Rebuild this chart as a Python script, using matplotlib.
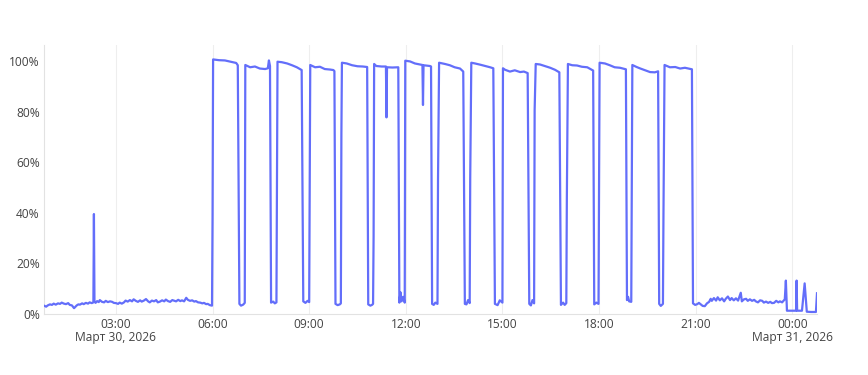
import matplotlib
matplotlib.use("Agg")
import matplotlib.pyplot as plt
import pandas as pd

# CPU usage (%) sampled over 24h, Mar 30 00:46 -> Mar 31 00:46
times = [
    # night low
    "03-30 00:46", "03-30 00:50", "03-30 00:53", "03-30 00:57", "03-30 01:01", "03-30 01:04",
    "03-30 01:08", "03-30 01:12", "03-30 01:16", "03-30 01:19", "03-30 01:23", "03-30 01:27",
    "03-30 01:31", "03-30 01:34", "03-30 01:38", "03-30 01:42", "03-30 01:47", "03-30 01:50",
    "03-30 01:53", "03-30 01:57", "03-30 02:00", "03-30 02:04", "03-30 02:08", "03-30 02:11",
    "03-30 02:15", "03-30 02:18", "03-30 02:19", "03-30 02:20", "03-30 02:22", "03-30 02:25",
    "03-30 02:28", "03-30 02:30", "03-30 02:34", "03-30 02:38", "03-30 02:41", "03-30 02:45",
    "03-30 02:49", "03-30 02:53", "03-30 02:56", "03-30 03:00", "03-30 03:04", "03-30 03:07",
    "03-30 03:11", "03-30 03:15", "03-30 03:18", "03-30 03:22", "03-30 03:26", "03-30 03:30",
    "03-30 03:33", "03-30 03:37", "03-30 03:41", "03-30 03:45", "03-30 03:48", "03-30 03:52",
    "03-30 03:56", "03-30 04:00", "03-30 04:03", "03-30 04:07", "03-30 04:11", "03-30 04:15",
    "03-30 04:18", "03-30 04:22", "03-30 04:26", "03-30 04:30", "03-30 04:33", "03-30 04:37",
    "03-30 04:41", "03-30 04:45", "03-30 04:48", "03-30 04:52", "03-30 04:56", "03-30 05:00",
    "03-30 05:03", "03-30 05:07", "03-30 05:11", "03-30 05:14", "03-30 05:18", "03-30 05:22",
    "03-30 05:26", "03-30 05:29", "03-30 05:33", "03-30 05:37", "03-30 05:41", "03-30 05:44",
    "03-30 05:48", "03-30 05:51", "03-30 05:55", "03-30 05:59",
    # cycle 1
    "03-30 06:00", "03-30 06:01", "03-30 06:12", "03-30 06:23", "03-30 06:36", "03-30 06:44", "03-30 06:47",
    "03-30 06:50", "03-30 06:53", "03-30 06:57", "03-30 07:00",
    # cycle 2
    "03-30 07:01", "03-30 07:10", "03-30 07:19", "03-30 07:28", "03-30 07:38", "03-30 07:43", "03-30 07:45",
    "03-30 07:47", "03-30 07:49", "03-30 07:53", "03-30 07:56", "03-30 07:59",
    # cycle 3
    "03-30 08:01", "03-30 08:09", "03-30 08:19", "03-30 08:28", "03-30 08:37", "03-30 08:46",
    "03-30 08:49", "03-30 08:53", "03-30 08:57", "03-30 09:00",
    # cycle 4
    "03-30 09:02", "03-30 09:11", "03-30 09:20", "03-30 09:29", "03-30 09:39", "03-30 09:45", "03-30 09:47",
    "03-30 09:49", "03-30 09:53", "03-30 09:57", "03-30 09:59",
    # cycle 5
    "03-30 10:00", "03-30 10:01", "03-30 10:10", "03-30 10:20", "03-30 10:30", "03-30 10:40", "03-30 10:48",
    "03-30 10:50", "03-30 10:54", "03-30 10:57", "03-30 10:59",
    # cycle 6
    "03-30 11:00", "03-30 11:01", "03-30 11:05", "03-30 11:15", "03-30 11:23", "03-30 11:24", "03-30 11:25",
    "03-30 11:35", "03-30 11:46", "03-30 11:48", "03-30 11:50", "03-30 11:52", "03-30 11:55", "03-30 11:58",
    # cycle 7
    "03-30 11:59", "03-30 12:08", "03-30 12:17", "03-30 12:27", "03-30 12:31", "03-30 12:32", "03-30 12:33",
    "03-30 12:45", "03-30 12:47", "03-30 12:49", "03-30 12:52", "03-30 12:55", "03-30 12:59",
    # cycle 8
    "03-30 13:00", "03-30 13:02", "03-30 13:13", "03-30 13:22", "03-30 13:31", "03-30 13:41", "03-30 13:47",
    "03-30 13:50", "03-30 13:53", "03-30 13:56", "03-30 13:59",
    # cycle 9
    "03-30 14:00", "03-30 14:02", "03-30 14:09", "03-30 14:19", "03-30 14:28", "03-30 14:37", "03-30 14:43",
    "03-30 14:46", "03-30 14:51", "03-30 14:55", "03-30 15:00",
    # cycle 10
    "03-30 15:01", "03-30 15:05", "03-30 15:14", "03-30 15:23", "03-30 15:33", "03-30 15:40", "03-30 15:47",
    "03-30 15:50", "03-30 15:53", "03-30 15:56", "03-30 15:59",
    # cycle 11
    "03-30 16:00", "03-30 16:02", "03-30 16:10", "03-30 16:19", "03-30 16:29", "03-30 16:38", "03-30 16:46",
    "03-30 16:49", "03-30 16:53", "03-30 16:56", "03-30 16:59",
    # cycle 12
    "03-30 17:00", "03-30 17:02", "03-30 17:10", "03-30 17:19", "03-30 17:28", "03-30 17:38", "03-30 17:49",
    "03-30 17:51", "03-30 17:55", "03-30 17:59",
    # cycle 13
    "03-30 18:01", "03-30 18:11", "03-30 18:20", "03-30 18:29", "03-30 18:39", "03-30 18:50",
    "03-30 18:52", "03-30 18:54", "03-30 18:56", "03-30 19:00",
    # cycle 14
    "03-30 19:02", "03-30 19:10", "03-30 19:17", "03-30 19:26", "03-30 19:35", "03-30 19:44", "03-30 19:50",
    "03-30 19:52", "03-30 19:55", "03-30 19:59",
    # cycle 15
    "03-30 20:00", "03-30 20:02", "03-30 20:12", "03-30 20:22", "03-30 20:31", "03-30 20:40", "03-30 20:53",
    # evening low
    "03-30 20:55", "03-30 20:59", "03-30 21:03", "03-30 21:06", "03-30 21:10", "03-30 21:13", "03-30 21:17",
    "03-30 21:21", "03-30 21:25", "03-30 21:28", "03-30 21:30", "03-30 21:34", "03-30 21:38", "03-30 21:41",
    "03-30 21:45", "03-30 21:49", "03-30 21:53", "03-30 21:56", "03-30 22:00", "03-30 22:04", "03-30 22:07",
    "03-30 22:11", "03-30 22:15", "03-30 22:19", "03-30 22:24", "03-30 22:26", "03-30 22:30", "03-30 22:34",
    "03-30 22:37", "03-30 22:41", "03-30 22:45", "03-30 22:49", "03-30 22:52", "03-30 22:56", "03-30 23:00",
    "03-30 23:04", "03-30 23:07", "03-30 23:11", "03-30 23:15", "03-30 23:19", "03-30 23:22", "03-30 23:26",
    "03-30 23:30", "03-30 23:34", "03-30 23:37", "03-30 23:41", "03-30 23:46", "03-30 23:48",
    "03-30 23:50", "03-31 00:07", "03-31 00:08", "03-31 00:09", "03-31 00:18", "03-31 00:23",
    "03-31 00:27", "03-31 00:35", "03-31 00:44", "03-31 00:46",
]

usage = [
    # night low
    3.3, 2.9, 3.4, 3.8, 3.6, 4.1, 3.7, 4.2, 4.0, 4.5, 4.1, 3.9,
    4.3, 3.6, 3.4, 2.3, 3.4, 3.8, 3.7, 4.2, 3.9, 4.4, 4.1, 4.6,
    4.3, 4.6, 39.5, 5.0, 4.4, 5.1, 4.7, 5.5, 4.8, 4.6, 5.2, 4.7,
    5.0, 4.8, 4.4, 4.3, 4.0, 4.5, 4.1, 4.6, 5.3, 4.9, 5.5, 5.0,
    5.8, 5.2, 4.8, 5.4, 4.9, 5.3, 5.9, 5.0, 4.6, 5.3, 5.0, 5.5,
    4.6, 4.9, 5.4, 5.0, 5.7, 5.1, 4.8, 5.5, 5.3, 5.0, 5.6, 5.1,
    5.4, 5.0, 6.4, 5.6, 5.2, 5.4, 4.9, 5.1, 4.6, 4.5, 4.2, 4.4,
    3.9, 4.0, 3.5, 3.3,
    # cycle 1
    38.5, 100.6, 100.3, 100.2, 99.6, 99.2, 98.3,
    4.0, 3.3, 3.7, 4.4,
    # cycle 2
    98.4, 97.5, 97.8, 97.0, 96.8, 97.1, 100.2,
    98.0, 4.5, 4.9, 4.2, 4.6,
    # cycle 3
    99.7, 99.5, 99.0, 98.3, 97.5, 96.4,
    5.0, 4.4, 5.2, 4.7,
    # cycle 4
    98.4, 97.5, 97.7, 96.8, 96.6, 96.4, 96.0,
    4.0, 3.5, 3.8, 4.2,
    # cycle 5
    70.8, 99.3, 99.0, 98.3, 97.9, 97.8, 97.6,
    3.8, 3.3, 3.6, 4.0,
    # cycle 6
    30.6, 98.8, 98.0, 97.8, 97.8, 77.7, 97.5,
    97.4, 97.5, 4.5, 8.6, 5.0, 6.8, 4.5,
    # cycle 7
    100.1, 99.8, 99.0, 98.6, 98.4, 82.6, 98.3,
    98.0, 97.8, 4.0, 3.6, 4.5, 4.0,
    # cycle 8
    53.0, 99.3, 98.8, 98.3, 97.5, 97.0, 95.8,
    4.0, 3.8, 5.5, 4.3,
    # cycle 9
    53.8, 99.3, 99.0, 98.5, 98.0, 97.5, 97.1,
    4.0, 3.5, 5.4, 4.5,
    # cycle 10
    97.1, 96.5, 95.8, 96.3, 95.6, 95.8, 95.2,
    4.0, 3.4, 5.5, 4.2,
    # cycle 11
    80.6, 98.8, 98.6, 98.0, 97.3, 96.5, 95.5,
    3.6, 4.5, 3.6, 4.3,
    # cycle 12
    45.7, 98.8, 98.3, 98.2, 97.7, 97.5, 96.2,
    3.8, 4.5, 4.0,
    # cycle 13
    99.3, 99.0, 98.3, 97.5, 97.3, 96.7,
    5.5, 6.8, 5.0, 4.8,
    # cycle 14
    98.4, 97.6, 97.0, 96.3, 95.6, 95.5, 95.9,
    4.0, 3.2, 4.0,
    # cycle 15
    39.8, 98.4, 97.5, 97.6, 97.0, 97.3, 96.7,
    # evening low
    4.2, 3.6, 3.9, 4.4, 3.7, 3.2, 3.1,
    4.2, 4.8, 6.0, 5.2, 6.3, 5.3, 6.6,
    5.4, 6.2, 5.0, 6.0, 6.9, 5.5, 6.3,
    5.4, 6.2, 5.3, 8.4, 5.0, 5.8, 6.0,
    5.2, 5.8, 5.2, 5.6, 5.0, 4.6, 5.4,
    5.2, 4.5, 4.9, 4.4, 4.8, 4.3, 4.4,
    5.2, 4.6, 5.0, 4.6, 5.8, 13.2,
    1.3, 1.3, 13.2, 1.3, 1.3, 12.1,
    0.9, 0.8, 0.8, 8.2,
]

tick_times = ["03-30 03:00", "03-30 06:00", "03-30 09:00", "03-30 12:00",
              "03-30 15:00", "03-30 18:00", "03-30 21:00", "03-31 00:00"]
tick_labels = ["03:00\nМарт 30, 2026", "06:00", "09:00", "12:00",
               "15:00", "18:00", "21:00", "00:00\nМарт 31, 2026"]
y_ticks = [0, 20, 40, 60, 80, 100]

t = pd.to_datetime(["2026-" + s for s in times], format="%Y-%m-%d %H:%M")
tt = pd.to_datetime(["2026-" + s for s in tick_times], format="%Y-%m-%d %H:%M")

plt.rcParams["font.family"] = ["Open Sans", "DejaVu Sans"]
fig = plt.figure(figsize=(8.68, 3.75), dpi=100)
ax = fig.add_axes([44 / 868, 61 / 375, (817 - 44) / 868, (314 - 45) / 375])

ax.plot(t, usage, color="#636EFA", linewidth=1.6, solid_joinstyle="round", zorder=3)

ax.set_xlim(t[0], t[-1])
ax.set_ylim(0, 106.3)
ax.set_xticks(tt)
ax.set_xticklabels(tick_labels, linespacing=1.0)
ax.set_yticks(y_ticks)
ax.set_yticklabels([f"{v}%" for v in y_ticks])

ax.tick_params(axis="both", length=0, labelsize=8.64, colors="#444444")
ax.tick_params(axis="x", pad=3)
ax.tick_params(axis="y", pad=3)

ax.grid(axis="x", color="#EEEEEE", linewidth=0.8, zorder=0)
ax.grid(axis="y", visible=False)
for side in ["top", "right"]:
    ax.spines[side].set_visible(False)
for side in ["left", "bottom"]:
    ax.spines[side].set_color("#E2E2E2")
    ax.spines[side].set_linewidth(0.8)

fig.savefig("out.png", dpi=100, facecolor="white")
